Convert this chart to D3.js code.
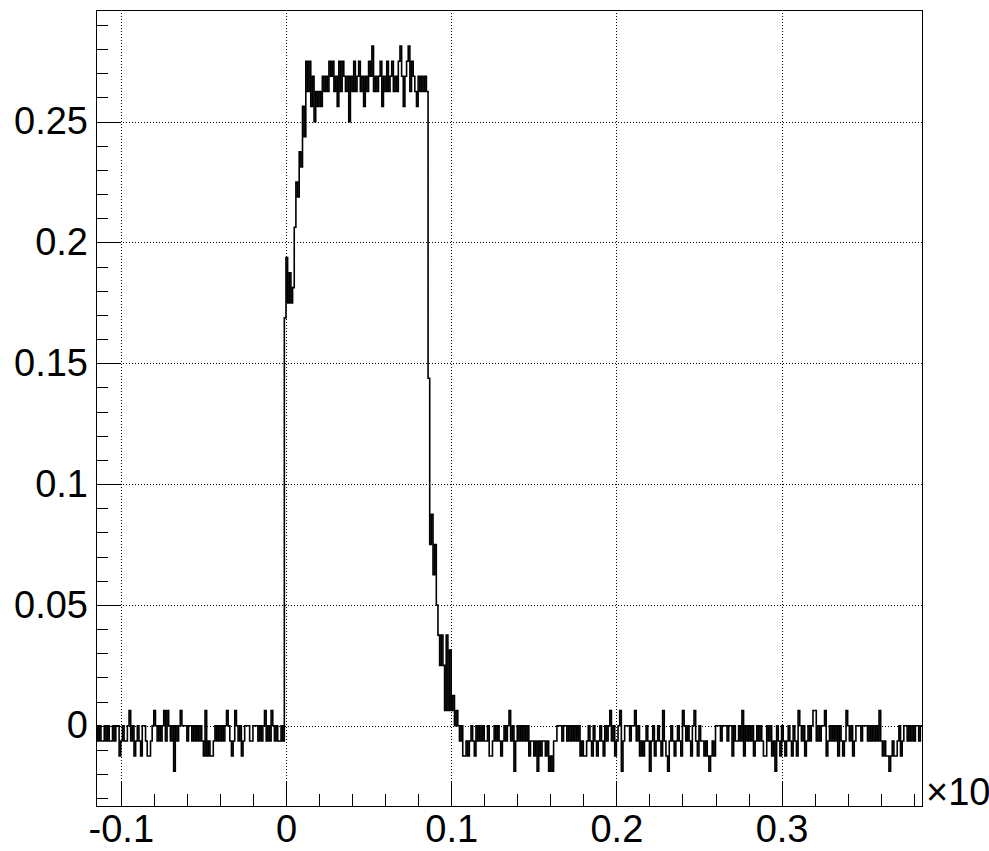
<!DOCTYPE html>
<html lang="en">
  <head>
    <meta charset='utf-8'>
    <script src='https://d3js.org/d3.v7.min.js'></script>
    <title>Pulse histogram</title>
    <style>
      body {
        margin: 0px;
        background: #fff;
      }
      .tick text, .exp-label {
        fill: #000;
        font-size: 38px;
        font-family: 'Liberation Sans', Arial, sans-serif;
      }
      .grid line {
        stroke: #000;
        stroke-dasharray: 1,2;
        shape-rendering: crispEdges;
      }
      .ticks line {
        stroke: #000;
        shape-rendering: crispEdges;
      }
    </style>
  </head>
  <body>
    <div id='viz'></div>
    <script>

      // axis ranges (x in units of the hidden x10^n exponent)
      const xMin = -0.115, xMax = 0.385, binWidth = 0.001;
      const yMin = -0.0332, yMax = 0.2962;

      const xTickValues = [-0.1, 0, 0.1, 0.2, 0.3];
      const xTickLabels = ['-0.1', '0', '0.1', '0.2', '0.3'];
      const yTickValues = [0, 0.05, 0.1, 0.15, 0.2, 0.25];
      const yTickLabels = ['0', '0.05', '0.1', '0.15', '0.2', '0.25'];
      const xExponentLabel = '\u00d710';

      // bin contents
      const preSignal = [
        0, -0.0063, 0, -0.0063, -0.0063, 0, -0.0063, 0, -0.0063, -0.0063, 0, -0.0063, 0, 0, -0.0125, -0.0063, 0, -0.0063, -0.0063, 0,
        0.0063, -0.0063, 0, -0.0125, -0.0063, 0, -0.0063, -0.0125, 0, 0, -0.0063, -0.0125, -0.0125, -0.0063, 0, 0.0063, 0, -0.0063, 0, -0.0063,
        0, 0.0063, -0.0063, 0.0063, 0, -0.0063, 0, -0.0188, 0, -0.0063, 0, 0.0063, 0, 0, 0, -0.0063, 0, 0, -0.0063, 0,
        -0.0063, 0, -0.0063, 0, -0.0063, -0.0125, 0.0063, -0.0125, -0.0063, -0.0125, -0.0125, -0.0063, 0, -0.0063, 0, -0.0063, 0, -0.0063, 0, 0.0063,
        0, -0.0063, -0.0125, -0.0063, 0.0063, 0, -0.0063, 0, -0.0125, -0.0063, 0, 0, 0, -0.0063, -0.0063, 0, 0, 0, -0.0063, 0,
        -0.0063, 0, 0.0063, -0.0063, 0, -0.0063, 0.0063, 0, -0.0063, 0, -0.0063, -0.0063, 0, -0.0063
      ];
      const rise = [0.1688, 0.1938, 0.175, 0.1875, 0.175, 0.1813, 0.2063, 0.225, 0.2188, 0.2375, 0.2313, 0.2563, 0.2438];
      const plateau = [
        0.275, 0.2625, 0.275, 0.2563, 0.2688, 0.25, 0.2625, 0.2563, 0.2625, 0.2563,
        0.2688, 0.2625, 0.2688, 0.2625, 0.275, 0.2688, 0.275, 0.2625, 0.2688, 0.2563,
        0.275, 0.2625, 0.275, 0.2688, 0.2625, 0.2688, 0.25, 0.2688, 0.2625, 0.275,
        0.2625, 0.2688, 0.275, 0.2625, 0.2688, 0.2563, 0.2688, 0.2625, 0.275, 0.2688,
        0.2813, 0.2625, 0.2688, 0.2625, 0.2688, 0.275, 0.2563, 0.2688, 0.2625, 0.275,
        0.2625, 0.2688, 0.275, 0.2625, 0.2688, 0.2625, 0.275, 0.2813, 0.2688, 0.2563,
        0.2688, 0.275, 0.2813, 0.2625, 0.275, 0.2688, 0.2625, 0.2563, 0.2688, 0.2625,
        0.2688, 0.2625, 0.2688, 0.2625
      ];
      const fall = [0.1438, 0.075, 0.0875, 0.0625, 0.075, 0.05, 0.0375, 0.025, 0.0375, 0.025,
        0.0063, 0.0375, 0.0063, 0.0313, 0.0063, 0.0125, 0, 0.0063, 0];
      const postSignal = [
        -0.0063, 0, -0.0125, -0.0125, -0.0063, -0.0125, -0.0063, 0, -0.0063, -0.0125, 0, -0.0063, 0, -0.0063, 0, -0.0063, -0.0063, 0, -0.0125, -0.0125,
        -0.0063, 0, -0.0063, 0, -0.0063, -0.0125, -0.0063, 0, -0.0063, 0, 0.0063, -0.0063, 0, -0.0188, -0.0063, 0, -0.0063, 0, -0.0063, 0,
        -0.0063, 0, -0.0125, -0.0063, -0.0063, -0.0125, -0.0063, -0.0188, -0.0063, -0.0125, -0.0063, -0.0063, -0.0125, -0.0063, -0.0188, -0.0125, -0.0188, -0.0063, -0.0063, 0,
        0, 0, -0.0063, 0, 0, -0.0063, 0, -0.0063, 0, -0.0063, 0, -0.0063, 0, -0.0125, -0.0063, -0.0125, -0.0125, -0.0063, 0, -0.0063,
        -0.0125, 0, -0.0063, -0.0125, -0.0063, 0, -0.0063, -0.0125, 0, -0.0063, 0, 0.0063, -0.0063, 0, -0.0125, -0.0063, 0, 0.0063, -0.0188, -0.0063,
        0, 0, 0, -0.0063, 0, 0, 0.0063, -0.0063, 0, -0.0125, -0.0063, -0.0125, -0.0063, 0, -0.0063, -0.0188, -0.0063, 0, -0.0125, -0.0063,
        0, -0.0063, -0.0125, 0.0063, -0.0063, -0.0125, -0.0188, -0.0063, 0, -0.0063, -0.0125, -0.0063, 0, -0.0063, -0.0125, 0.0063, 0, -0.0063, 0, -0.0063,
        -0.0125, 0, 0.0063, -0.0063, -0.0125, 0, -0.0063, -0.0063, -0.0125, -0.0063, -0.0125, -0.0188, -0.0125, -0.0063, -0.0125, 0, 0, 0, -0.0063, 0,
        0, 0, -0.0063, 0, 0, -0.0125, 0, -0.0063, -0.0063, 0, -0.0063, 0.0063, -0.0125, 0, -0.0063, 0, -0.0063, 0, -0.0125, -0.0063,
        0, -0.0063, 0, -0.0063, -0.0125, -0.0125, 0, -0.0063, 0, -0.0125, -0.0063, -0.0188, 0, -0.0063, -0.0125, 0, -0.0063, -0.0125, -0.0063, 0,
        -0.0063, -0.0125, 0, -0.0063, -0.0125, 0.0063, 0, -0.0063, 0, -0.0125, -0.0063, 0, -0.0063, 0, 0.0063, 0.0063, -0.0063, 0, -0.0063, 0,
        0, 0.0063, -0.0125, -0.0063, 0, -0.0063, 0, -0.0063, 0, -0.0125, 0, -0.0063, -0.0125, -0.0063, 0.0063, 0, -0.0063, 0, -0.0125, -0.0063,
        0, 0, 0, -0.0063, 0, 0, 0, -0.0063, 0, -0.0063, 0, -0.0063, 0, -0.0063, 0.0063, -0.0063, -0.0125, -0.0063, -0.0125, -0.0125,
        -0.0188, -0.0125, -0.0063, -0.0125, -0.0125, -0.0063, 0, -0.0125, -0.0063, 0, 0, -0.0063, 0, -0.0063, 0, -0.0063, 0, 0, -0.0063, 0
      ];

      const values = [].concat(preSignal, rise, plateau, fall, postSignal);
      const bins = values.map((v, i) => ({ x0: xMin + i * binWidth, v: v }));
      // closing point so the last bin gets its full width
      bins.push({ x0: xMax, v: values[values.length - 1] });

      const width = 989, height = 851;
      const margin = { left: 96, right: 67, top: 10, bottom: 45 };
      const innerWidth = width - margin.left - margin.right;
      const innerHeight = height - margin.top - margin.bottom;

      const svg = d3.select('#viz').append('svg')
        .attr('width', width)
        .attr('height', height);

      const g = svg.append('g')
        .attr('transform', `translate(${margin.left},${margin.top})`);

      const xScale = d3.scaleLinear().domain([xMin, xMax]).range([0, innerWidth]);
      const yScale = d3.scaleLinear().domain([yMin, yMax]).range([innerHeight, 0]);

      // minor ticks every 0.02 on x and 0.01 on y
      const xMinor = d3.range(-5, 20).filter(i => i % 5 !== 0).map(i => i * 0.02);
      const yMinor = d3.range(-3, 30).filter(i => i % 5 !== 0).map(i => i * 0.01);

      // drop the axis line and the empty labels of unlabelled axes
      const stripDomain = sel => sel.select('.domain').remove();
      const stripAll = sel => {
        sel.select('.domain').remove();
        sel.selectAll('.tick text').remove();
      };

      // dotted grid
      g.append('g').attr('class', 'grid')
        .attr('transform', `translate(0,${innerHeight})`)
        .call(d3.axisBottom(xScale).tickValues(xTickValues).tickSize(-innerHeight))
        .call(stripAll);
      g.append('g').attr('class', 'grid')
        .call(d3.axisLeft(yScale).tickValues(yTickValues).tickSize(-innerWidth))
        .call(stripAll);

      // ticks point inward, labels outside
      g.append('g').attr('class', 'ticks')
        .attr('transform', `translate(0,${innerHeight})`)
        .call(d3.axisBottom(xScale).tickValues(xMinor).tickSize(-12))
        .call(stripAll);
      g.append('g').attr('class', 'ticks')
        .attr('transform', `translate(0,${innerHeight})`)
        .call(d3.axisBottom(xScale).tickValues(xTickValues).tickSize(-24).tickPadding(9)
          .tickFormat((d, i) => xTickLabels[i]))
        .call(stripDomain)
        .attr('font-size', null).attr('font-family', null);

      g.append('g').attr('class', 'ticks')
        .call(d3.axisLeft(yScale).tickValues(yMinor).tickSize(-12))
        .call(stripAll);
      g.append('g').attr('class', 'ticks')
        .call(d3.axisLeft(yScale).tickValues(yTickValues).tickSize(-25).tickPadding(8)
          .tickFormat((d, i) => yTickLabels[i]))
        .call(stripDomain)
        .attr('font-size', null).attr('font-family', null);

      // histogram drawn as a step line
      const line = d3.line()
        .x(d => xScale(d.x0))
        .y(d => yScale(d.v))
        .curve(d3.curveStepAfter);

      g.append('path')
        .datum(bins)
        .attr('d', line)
        .attr('fill', 'none')
        .attr('stroke', '#000')
        .attr('stroke-width', 1.6);

      // frame
      g.append('rect')
        .attr('x', 0.5).attr('y', 0.5)
        .attr('width', innerWidth).attr('height', innerHeight)
        .attr('fill', 'none')
        .attr('stroke', '#000')
        .attr('shape-rendering', 'crispEdges');

      g.append('text')
        .attr('class', 'exp-label')
        .attr('x', innerWidth + 4)
        .attr('y', innerHeight - 1)
        .text(xExponentLabel);

    </script>
  </body>
</html>
